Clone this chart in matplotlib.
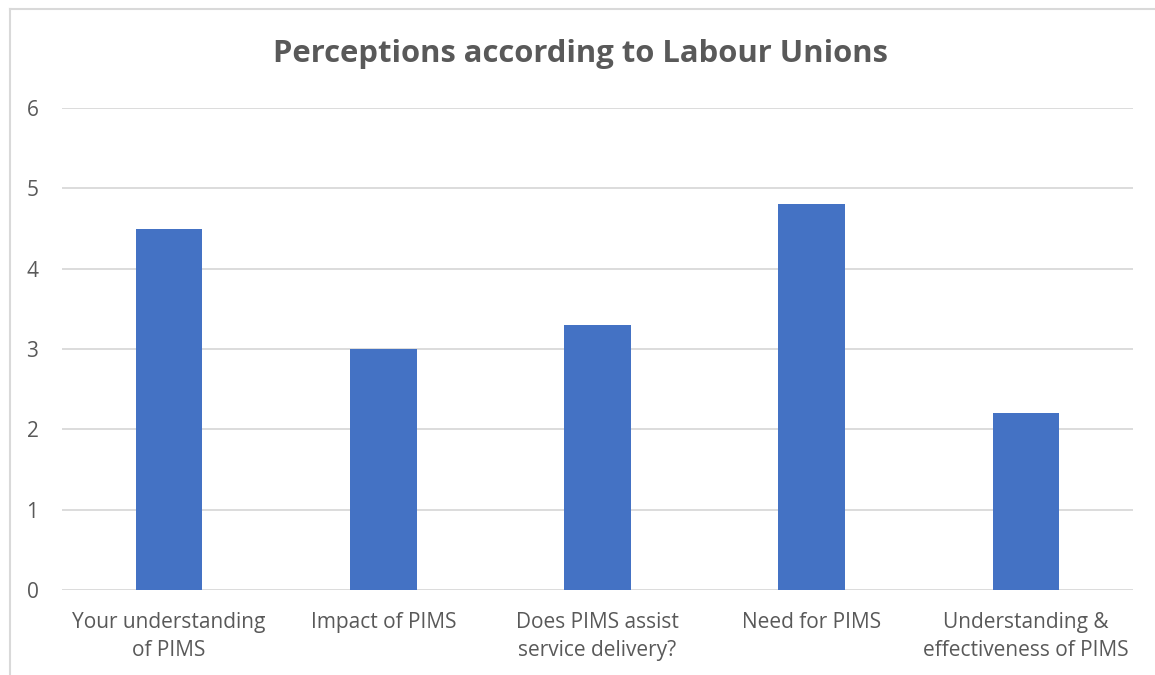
import numpy as np
import matplotlib.pyplot as plt

plt.rcParams['font.family'] = ['Open Sans', 'DejaVu Sans']

# categories and mean scores
categories = ['Your understanding\nof PIMS', 'Impact of PIMS',
              'Does PIMS assist\nservice delivery?', 'Need for PIMS',
              'Understanding &\neffectiveness of PIMS']
scores = [4.5, 3.0, 3.3, 4.8, 2.2]

text_col = '#595959'
grid_col = '#D9D9D9'

fig = plt.figure(figsize=(11.55, 6.75), dpi=100)
ax = fig.add_axes([62 / 1155, 85 / 675, 1071 / 1155, 482 / 675])

x = np.arange(len(categories))
ax.bar(x, scores, width=0.31, color='#4472C4', zorder=3)

ax.set_xlim(-0.5, len(categories) - 0.5)
ax.set_ylim(0, 6)
ax.set_yticks(range(0, 7))
ax.set_xticks(x)
ax.set_xticklabels(categories, fontsize=15, color=text_col, linespacing=1.45)
ax.tick_params(axis='y', labelsize=15, labelcolor=text_col, length=0, pad=17)
ax.tick_params(axis='x', length=0, pad=16)
ax.grid(axis='y', color=grid_col, linewidth=1.3, zorder=0)
for s in ax.spines.values():
    s.set_visible(False)

fig.text(580 / 1155, 1 - 54 / 675, 'Perceptions according to Labour Unions',
         ha='center', va='center', fontsize=22.3, fontweight='bold', color=text_col)

# outer chart frame (top and left edges)
fig.add_artist(plt.Line2D([10 / 1155, 1], [1 - 9 / 675, 1 - 9 / 675],
                          color=grid_col, linewidth=1.5))
fig.add_artist(plt.Line2D([10 / 1155, 10 / 1155], [0, 1 - 9 / 675],
                          color=grid_col, linewidth=1.5))

fig.savefig('out.png', dpi=100)
